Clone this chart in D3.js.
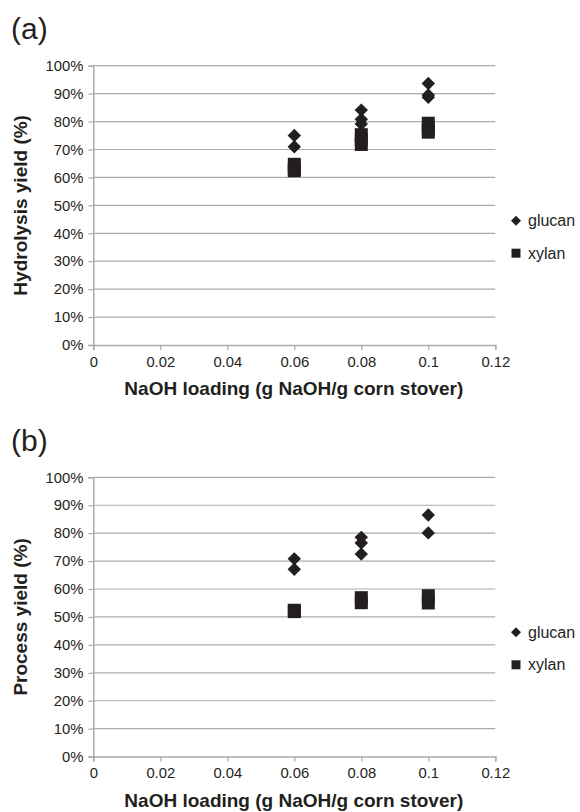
<!DOCTYPE html>
<html><head><meta charset="utf-8">
<script src="https://cdn.jsdelivr.net/npm/d3@7"></script>
<style>body{margin:0;background:#fff}svg{display:block}text{font-family:"Liberation Sans",Arial,Helvetica,sans-serif}</style>
</head><body>
<svg id="c" width="580" height="812"></svg>
<script>
const xTicks = [0, 0.02, 0.04, 0.06, 0.08, 0.1, 0.12];
const yTicks = [0, 0.1, 0.2, 0.3, 0.4, 0.5, 0.6, 0.7, 0.8, 0.9, 1.0];
const seriesNames = ["glucan", "xylan"];
const xLabel = "NaOH loading (g NaOH/g corn stover)";

// Panel (a): hydrolysis yield
const hydGlucanX = [0.06, 0.06, 0.08, 0.08, 0.08, 0.1, 0.1, 0.1];
const hydGlucanY = [0.750, 0.710, 0.841, 0.808, 0.791, 0.936, 0.895, 0.887];
const hydXylanX  = [0.06, 0.06, 0.06, 0.08, 0.08, 0.08, 0.1, 0.1, 0.1];
const hydXylanY  = [0.647, 0.630, 0.624, 0.753, 0.735, 0.718, 0.794, 0.775, 0.762];

// Panel (b): process yield
const procGlucanX = [0.06, 0.06, 0.08, 0.08, 0.08, 0.1, 0.1];
const procGlucanY = [0.708, 0.671, 0.785, 0.765, 0.725, 0.865, 0.801];
const procXylanX  = [0.06, 0.06, 0.08, 0.08, 0.1, 0.1];
const procXylanY  = [0.524, 0.519, 0.569, 0.551, 0.576, 0.550];

const panels = [
  {tag: "(a)", yLabel: "Hydrolysis yield (%)", top: 65.7, gx: hydGlucanX, gy: hydGlucanY, xx: hydXylanX, xy: hydXylanY},
  {tag: "(b)", yLabel: "Process yield (%)", top: 477.3, gx: procGlucanX, gy: procGlucanY, xx: procXylanX, xy: procXylanY}
];

const svg = d3.select("#c");
const left = 93.3, right = 495.3, ph = 279.3;
const ink = "#231f20", grid = "#ababab";
const FONT = '"Liberation Sans",Arial,Helvetica,sans-serif';

panels.forEach(p => {
  const g = svg.append("g");
  const x = d3.scaleLinear().domain([0, 0.12]).range([left, right]);
  const y = d3.scaleLinear().domain([0, 1]).range([p.top + ph, p.top]);

  g.append("text").attr("x", 11).attr("y", p.top - 26.8).attr("font-size", 30).attr("fill", ink).text(p.tag);

  // gridlines
  g.selectAll("line.grid").data(yTicks.slice(1)).join("line")
    .attr("x1", left).attr("x2", right).attr("y1", d => y(d)).attr("y2", d => y(d))
    .attr("stroke", grid).attr("stroke-width", 1.2);

  const ya = g.append("g").attr("transform", `translate(${left},0)`)
    .call(d3.axisLeft(y).tickValues(yTicks).tickFormat(d3.format(".0%")).tickSize(5).tickPadding(5));
  const xa = g.append("g").attr("transform", `translate(0,${p.top + ph})`)
    .call(d3.axisBottom(x).tickValues(xTicks).tickFormat(d => String(d)).tickSize(5).tickPadding(6));
  [ya, xa].forEach(a => {
    a.attr("font-size", 14.8).attr("font-family", FONT);
    a.select(".domain").attr("stroke", grid).attr("stroke-width", 1.5);
    a.selectAll(".tick line").attr("stroke", grid).attr("stroke-width", 1.2);
    a.selectAll(".tick text").attr("fill", ink);
  });

  g.append("text").attr("transform", `translate(27,${p.top + ph / 2}) rotate(-90)`)
    .attr("text-anchor", "middle").attr("font-size", 19).attr("font-weight", "bold").attr("fill", ink).text(p.yLabel);
  g.append("text").attr("x", (left + right) / 2 - 0.5).attr("y", p.top + ph + 50)
    .attr("text-anchor", "middle").attr("font-size", 19).attr("font-weight", "bold").attr("fill", ink).text(xLabel);

  // xylan squares
  g.selectAll("rect.xy").data(p.xx.map((v, i) => [v, p.xy[i]])).join("rect")
    .attr("x", d => x(d[0]) - 6.5).attr("y", d => y(d[1]) - 6.5).attr("width", 13).attr("height", 13).attr("fill", ink);
  // glucan diamonds
  g.selectAll("path.gl").data(p.gx.map((v, i) => [v, p.gy[i]])).join("path")
    .attr("d", d3.symbol().type(d3.symbolSquare).size(90)())
    .attr("transform", d => `translate(${x(d[0])},${y(d[1])}) rotate(45)`).attr("fill", ink);

  // legend
  const ly = [p.top + 155, p.top + 187.5];
  g.append("path").attr("d", d3.symbol().type(d3.symbolSquare).size(50)())
    .attr("transform", `translate(516,${ly[0]}) rotate(45)`).attr("fill", ink);
  g.append("rect").attr("x", 511.5).attr("y", ly[1] - 4.5).attr("width", 9).attr("height", 9).attr("fill", ink);
  seriesNames.forEach((s, i) => {
    g.append("text").attr("x", 528).attr("y", ly[i] + 5.5).attr("font-size", 16).attr("fill", ink).text(s);
  });
});
</script>
</body></html>
